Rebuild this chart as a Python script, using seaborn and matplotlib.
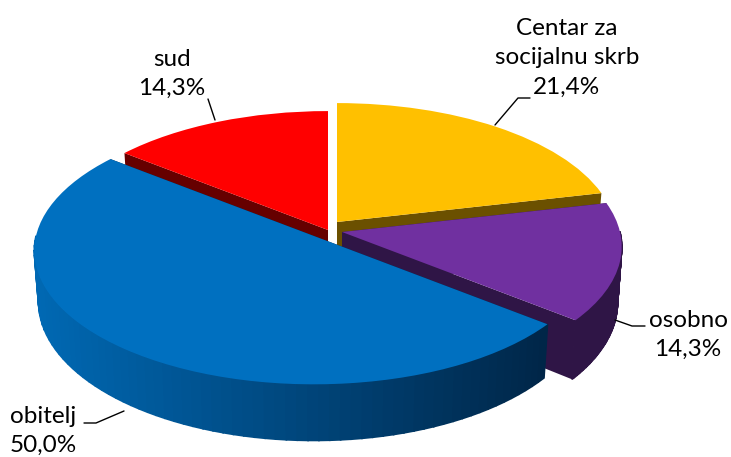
import numpy as np
import matplotlib
matplotlib.use("Agg")
import matplotlib.pyplot as plt
from matplotlib.transforms import Transform
import seaborn as sns

# data
labels = ["Centar za\nsocijalnu skrb", "osobno", "obitelj", "sud"]
values = [21.4, 14.3, 50.0, 14.3]

# colours
top_colors = ["#FFC000", "#7030A0", "#0070C0", "#FF0000"]
side_colors = ["#6B5000", "#2F1546", "#00507F", "#660000"]

# pixel position of each slice's tip, and the look of the tilted disc
origins = [(337, 222), (342, 232), (314, 236), (328, 230)]
depths = [50, 55, 50, 50]
draw_order = [0, 3, 1, 2]
RX, RY, K = 278, 132, 0.11
SHRINK = 0.985

sns.set_theme(style="white")
plt.rcParams["font.family"] = ["Lato", "DejaVu Sans"]


class Tilted(Transform):
    # puts a unit pie on a tilted plane, in pixel coordinates
    input_dims = 2
    output_dims = 2
    is_separable = False

    def __init__(self, origin):
        super().__init__()
        self.origin = origin

    def transform_non_affine(self, pts):
        pts = np.asarray(pts)
        w = 1 + K * pts[:, 1]
        return np.column_stack([self.origin[0] + RX * pts[:, 0] / w,
                                self.origin[1] - RY * pts[:, 1] / w])


def low(origin, u, v, depth):
    # the same point on the bottom of the disc
    w = 1 + K * v
    return origin[0] + SHRINK * RX * u / w, origin[1] - RY * v / w + depth / w


def high(origin, u, v):
    w = 1 + K * v
    return origin[0] + RX * u / w, origin[1] - RY * v / w


def side_color(i, x):
    if i != 2:
        return side_colors[i]
    f = np.clip((x - 35) / 510, 0, 1)
    return (0, (105 - 67 * f) / 255, (180 - 108 * f) / 255)


fig, ax = plt.subplots(figsize=(7.31, 4.57), dpi=100)
fig.subplots_adjust(0, 0, 1, 1)

wedges, _ = ax.pie(values, colors=sns.color_palette(top_colors), startangle=90,
                   counterclock=False, radius=1, normalize=True)
ax.set_aspect("auto")
ax.set_xlim(0, 731)
ax.set_ylim(457, 0)

for rank, i in enumerate(draw_order):
    w = wedges[i]
    org = origins[i]
    d = depths[i]
    z = 2 + rank
    t1, t2 = np.radians(w.theta1), np.radians(w.theta2)
    # flat cut faces first
    for t in (t1, t2):
        u, v = np.cos(t), np.sin(t)
        quad = [high(org, 0, 0), high(org, u, v), low(org, u, v, d), low(org, 0, 0, d)]
        xs, ys = zip(*quad)
        c = side_colors[i] if i != 2 else (0, 38 / 255, 72 / 255)
        ax.fill(xs, ys, color=c, lw=0, zorder=z)
    # outer rim in thin strips so the shading can change along it
    angles = np.linspace(t1, t2, 90)
    for a, b in zip(angles[:-1], angles[1:]):
        ua, va, ub, vb = np.cos(a), np.sin(a), np.cos(b), np.sin(b)
        if va > 0 and vb > 0:
            continue  # back of the disc, hidden by the top
        quad = [high(org, ua, va), high(org, ub, vb), low(org, ub, vb, d), low(org, ua, va, d)]
        xs, ys = zip(*quad)
        ax.fill(xs, ys, color=side_color(i, np.mean(xs)), lw=1.2, zorder=z + 0.1)
    w.set_transform(Tilted(org) + ax.transData)
    w.set_zorder(z + 0.5)
    w.set_linewidth(0)

# labels with leader lines
texts = [labels[i] + "\n" + f"{values[i]:.1f}%".replace(".", ",") for i in range(4)]
ax.text(567, 58, texts[0], ha="center", va="center", fontsize=17.5, color="black", linespacing=1.5)
ax.text(688, 335, texts[1], ha="center", va="center", fontsize=17.5, color="black", linespacing=1.5)
ax.text(10, 431, texts[2], ha="left", va="center", fontsize=17.5, color="black", linespacing=1.5)
ax.text(172, 74, texts[3], ha="center", va="center", fontsize=17.5, color="black", linespacing=1.5)

ax.plot([495, 518, 530], [125, 98, 98], color="black", lw=1, zorder=10)
ax.plot([615, 632, 645], [320, 326, 326], color="black", lw=1, zorder=10)
ax.plot([84, 96, 124], [423, 423, 411], color="black", lw=1, zorder=10)
ax.plot([208, 215], [99, 120], color="black", lw=1, zorder=10)

fig.savefig("out.png", dpi=100)
